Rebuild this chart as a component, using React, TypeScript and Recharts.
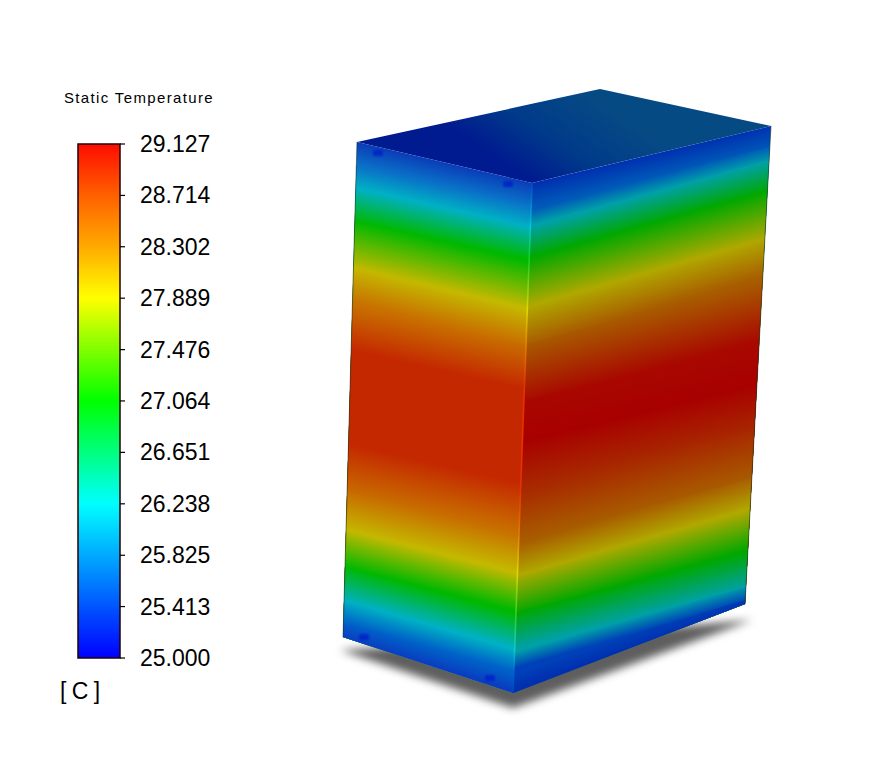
import { Area, Bar, BarChart, ComposedChart, Line, Scatter, XAxis, YAxis } from "recharts";

type Pt = { x: number; y: number };

const WIDTH = 873;
const HEIGHT = 777;

// colour bar
const tempTicks = [25.0, 25.413, 25.825, 26.238, 26.651, 27.064, 27.476, 27.889, 28.302, 28.714, 29.127];
const barData = [{ name: "Static Temperature", range: [25, 29.127] }];
const barTemps = [25, 25.413, 26.238, 27.064, 27.889, 28.302, 28.714, 29.127];
const barColors = ["#0000ff", "#0055ff", "#00ffff", "#00ff00", "#ffff00", "#ffaa00", "#ff6000", "#ff0c00"];

// box outline, in picture coordinates
const leftFace = { tl: { x: 357, y: 142 }, tr: { x: 532, y: 183 }, br: { x: 513, y: 693 }, bl: { x: 343, y: 637 } };
const rightFace = { tl: { x: 532, y: 183 }, tr: { x: 771, y: 126 }, br: { x: 745, y: 604 }, bl: { x: 513, y: 693 } };
const topUpper: Pt[] = [{ x: 357, y: 142 }, { x: 600, y: 89 }, { x: 771, y: 126 }];
const topLower: Pt[] = [{ x: 357, y: 142 }, { x: 532, y: 183 }, { x: 771, y: 126 }];
const shadowUpper: Pt[] = [{ x: 340, y: 650 }, { x: 520, y: 640 }, { x: 752, y: 620 }];
const shadowLower: Pt[] = [{ x: 340, y: 650 }, { x: 513, y: 708 }, { x: 752, y: 620 }];

// iso-bands: height at the face's left edge, at its right edge, colour
const leftBands: [number, number, string][] = [
  [142, 183, "#0a3cb8"],
  [165, 205, "#0a70c8"],
  [188, 227, "#00b0c4"],
  [222, 260, "#00b800"],
  [267, 310, "#c4b800"],
  [303, 345, "#c87000"],
  [352, 388, "#c42800"],
  [445, 482, "#c42800"],
  [492, 532, "#c86c00"],
  [530, 573, "#c4b800"],
  [567, 612, "#00b800"],
  [600, 650, "#00b0c4"],
  [623, 672, "#0060c8"],
  [637, 693, "#0a3cc0"],
];
const rightBands: [number, number, string][] = [
  [183, 126, "#0030b0"],
  [208, 147, "#0058b8"],
  [227, 160, "#00a0a8"],
  [257, 191, "#00a800"],
  [307, 238, "#b0a800"],
  [345, 277, "#a85c00"],
  [400, 343, "#a80800"],
  [440, 385, "#a80000"],
  [490, 430, "#a82800"],
  [542, 478, "#a85c00"],
  [577, 507, "#b0a800"],
  [612, 552, "#00a800"],
  [650, 587, "#00a0a8"],
  [670, 600, "#0040b8"],
  [693, 604, "#0030b0"],
];

// bright seam down the front corner
const seamY = [183, 227, 258, 310, 345, 385, 490, 535, 573, 613, 650, 670, 693];
const seamColors = ["#0048c8", "#00c8d8", "#10d020", "#e0d800", "#e08000", "#e83000", "#e83000", "#e08000", "#e0d800", "#30d020", "#10c8d0", "#0068d0", "#0040c0"];

// small dark probe marks near the corners
const probes: Pt[] = [{ x: 378, y: 153 }, { x: 508, y: 184 }, { x: 364, y: 637 }, { x: 490, y: 678 }];

const lerp = (a: Pt, b: Pt, y: number) => a.x + ((b.x - a.x) * (y - a.y)) / (b.y - a.y);

function chainAt(chain: Pt[], x: number) {
  for (let i = 1; i < chain.length; i++) {
    if (x <= chain[i].x) {
      const a = chain[i - 1];
      const b = chain[i];
      return b.x === a.x ? b.y : a.y + ((b.y - a.y) * (x - a.x)) / (b.x - a.x);
    }
  }
  return chain[chain.length - 1].y;
}

// Area wants [upper, lower] per x, so a polygon is turned into two chains
function polygonRows(upper: Pt[], lower: Pt[]) {
  const xs = [...new Set([...upper, ...lower].map((p) => p.x))].sort((a, b) => a - b);
  return xs.map((x) => ({ x, range: [chainAt(upper, x), chainAt(lower, x)] }));
}

function faceLayers(id: string, face: typeof leftFace, bands: [number, number, string][]) {
  return bands.slice(0, -1).map(([yl, yr, color], i) => {
    const next = bands[i + 1];
    const a = { x: lerp(face.tl, face.bl, yl), y: yl };
    const b = { x: lerp(face.tr, face.br, yr), y: yr };
    const dx = b.x - a.x;
    const slope = (yr - yl + next[1] - next[0]) / 2;
    const len = Math.hypot(dx, slope);
    const n = { x: -slope / len, y: dx / len };
    const mid = { x: (a.x + b.x) / 2, y: (yl + yr) / 2 };
    const nextMidY = (next[0] + next[1]) / 2;
    const t = (nextMidY - mid.y) * n.y;
    return {
      id: `${id}-${i}`,
      from: color,
      to: next[2],
      x1: mid.x,
      y1: mid.y,
      x2: mid.x + n.x * t,
      y2: mid.y + n.y * t,
      rows: polygonRows([face.bl, a, b], [face.bl, face.br, b]),
    };
  });
}

const layers = [...faceLayers("lf", leftFace, leftBands), ...faceLayers("rf", rightFace, rightBands)];

const Probe = (props: any) => (
  <rect x={props.cx - 5} y={props.cy - 3} width={10} height={6} rx={2} fill="#0010c8" opacity={0.6} style={{ filter: "blur(1px)" }} />
);

const ScaleTick = (props: any) => (
  <text x={props.x} y={props.y} dy={8} textAnchor="start" fontSize={23} fill="#000" fontFamily="'Liberation Sans', Arial, sans-serif">
    {Number(props.payload.value).toFixed(3)}
  </text>
);

export default function App() {
  return (
    <div style={{ position: "absolute", left: 0, top: 0, width: WIDTH, height: HEIGHT, background: "#fff", fontFamily: "'Liberation Sans', Arial, sans-serif", color: "#000" }}>
      <div style={{ position: "absolute", left: 64, top: 89, fontSize: 15, letterSpacing: 1.35, lineHeight: "18px", whiteSpace: "nowrap" }}>
        Static Temperature
      </div>
      <div style={{ position: "absolute", left: 60, top: 677, fontSize: 23, letterSpacing: -0.5, lineHeight: "28px", whiteSpace: "nowrap" }}>[ C ]</div>

      <div style={{ position: "absolute", left: 0, top: 0 }}>
        <ComposedChart width={WIDTH} height={HEIGHT} margin={{ top: 0, right: 0, bottom: 0, left: 0 }}>
          <defs>
            {layers.map((l) => (
              <linearGradient key={l.id} id={l.id} gradientUnits="userSpaceOnUse" x1={l.x1} y1={l.y1} x2={l.x2} y2={l.y2}>
                <stop offset="0%" stopColor={l.from} />
                <stop offset="100%" stopColor={l.to} />
              </linearGradient>
            ))}
            <linearGradient id="topFill" gradientUnits="userSpaceOnUse" x1={532} y1={183} x2={590} y2={95}>
              <stop offset="0%" stopColor="#001a90" />
              <stop offset="45%" stopColor="#003a8a" />
              <stop offset="100%" stopColor="#064a84" />
            </linearGradient>
            <linearGradient id="seam" gradientUnits="userSpaceOnUse" x1={0} y1={seamY[0]} x2={0} y2={seamY[seamY.length - 1]}>
              {seamY.map((y, i) => (
                <stop key={y} offset={(y - seamY[0]) / (seamY[seamY.length - 1] - seamY[0])} stopColor={seamColors[i]} />
              ))}
            </linearGradient>
          </defs>
          <XAxis dataKey="x" type="number" domain={[0, WIDTH]} hide allowDataOverflow />
          <YAxis dataKey="y" type="number" domain={[0, HEIGHT]} reversed hide allowDataOverflow width={0} />

          <Area
            data={polygonRows(shadowUpper, shadowLower)}
            dataKey="range"
            type="linear"
            stroke="none"
            fill="#5e5e5e"
            fillOpacity={1}
            style={{ filter: "blur(4px)" }}
            dot={false}
            activeDot={false}
            isAnimationActive={false}
          />
          <Area
            data={polygonRows(topUpper, topLower)}
            dataKey="range"
            type="linear"
            stroke="none"
            fill="url(#topFill)"
            fillOpacity={1}
            dot={false}
            activeDot={false}
            isAnimationActive={false}
          />
          {layers.map((l) => (
            <Area
              key={l.id}
              data={l.rows}
              dataKey="range"
              type="linear"
              stroke="none"
              fill={`url(#${l.id})`}
              fillOpacity={1}
              dot={false}
              activeDot={false}
              isAnimationActive={false}
            />
          ))}
          <Line data={[rightFace.tl, rightFace.bl]} dataKey="y" type="linear" stroke="url(#seam)" strokeWidth={1.6} dot={false} activeDot={false} isAnimationActive={false} />
          <Line data={[leftFace.tl, leftFace.bl]} dataKey="y" type="linear" stroke="#103020" strokeOpacity={0.55} strokeWidth={1} dot={false} activeDot={false} isAnimationActive={false} />
          <Line data={[rightFace.br, rightFace.tr]} dataKey="y" type="linear" stroke="#103020" strokeOpacity={0.55} strokeWidth={1} dot={false} activeDot={false} isAnimationActive={false} />
          <Scatter data={probes} dataKey="y" shape={<Probe />} isAnimationActive={false} />
        </ComposedChart>
      </div>

      <div style={{ position: "absolute", left: 0, top: 0 }}>
        <BarChart width={240} height={HEIGHT} data={barData} margin={{ top: 144, right: 0, bottom: 119, left: 78 }} barCategoryGap={0}>
          <defs>
            <linearGradient id="scale" x1="0" y1="1" x2="0" y2="0">
              {barTemps.map((t, i) => (
                <stop key={t} offset={(t - 25) / 4.127} stopColor={barColors[i]} />
              ))}
            </linearGradient>
          </defs>
          <XAxis dataKey="name" hide />
          <YAxis
            orientation="right"
            width={120}
            domain={[25, 29.127]}
            ticks={tempTicks}
            interval={0}
            axisLine={false}
            tickLine={{ stroke: "#000", strokeWidth: 1.2 }}
            tickSize={5}
            tickMargin={15}
            tick={<ScaleTick />}
          />
          <Bar dataKey="range" fill="url(#scale)" stroke="#200000" strokeWidth={1.5} isAnimationActive={false} />
        </BarChart>
      </div>
    </div>
  );
}
